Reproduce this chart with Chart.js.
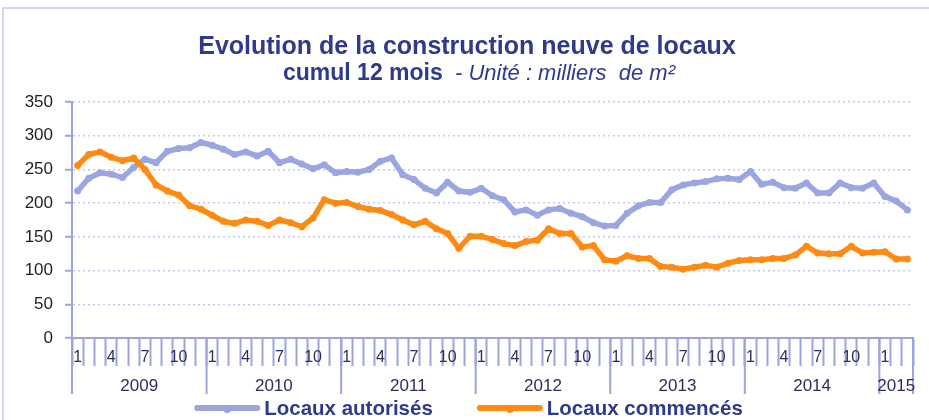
<!doctype html>
<html>
<head>
<meta charset="utf-8" />
<title>Evolution de la construction neuve de locaux</title>
<style>
  html, body { margin:0; padding:0; background:#fff; }
  #wrap { position:relative; width:929px; height:420px; overflow:hidden; }
</style>
<script src="https://cdn.jsdelivr.net/npm/chart.js"></script>
</head>
<body>
<div id="wrap"><canvas id="chart" width="929" height="420"></canvas></div>
<script>
// categories
const years = ['2009', '2010', '2011', '2012', '2013', '2014', '2015'];
const monthsInYear = [12, 12, 12, 12, 12, 12, 3];
const shownMonths = ['1', '4', '7', '10'];

// series, milliers de m² (cumul 12 mois)
const autorises = [
  218, 237, 245, 243, 238, 253, 265, 260, 277, 281, 282, 290,
  286, 280, 272, 276, 270, 277, 260, 265, 258, 251, 257, 245,
  247, 246, 250, 262, 267, 242, 235, 222, 215, 231, 218, 216,
  222, 211, 205, 187, 190, 182, 190, 192, 185, 180, 171, 166,
  167, 185, 196, 201, 201, 220, 227, 230, 232, 236, 237, 235,
  247, 228, 231, 223, 222, 230, 215, 215, 230, 223, 222, 230,
  210, 203, 190
];
const commences = [
  256, 272, 276, 268, 263, 267, 250, 227, 218, 212, 196, 191,
  182, 173, 170, 175, 173, 167, 175, 171, 165, 178, 205, 200,
  201, 195, 191, 189, 183, 175, 168, 173, 162, 155, 133, 151,
  151, 146, 140, 137, 143, 145, 162, 155, 155, 135, 137, 116,
  114, 122, 118, 118, 106, 105, 102, 105, 108, 105, 111, 115,
  116, 116, 118, 118, 123, 136, 126, 125, 125, 136, 126, 127,
  128, 117, 117
];
const yTicks = [0, 50, 100, 150, 200, 250, 300, 350];

const labels = [];
years.forEach((y, k) => {
  for (let m = 1; m <= monthsInYear[k]; m++) labels.push(String(m));
});

const NAVY = '#2F3A8C';
const LAV = '#9BA4DF';
const BLUE = '#9BA5E0';
const ORANGE = '#FF8A12';
const FONT = "'Liberation Sans', Arial, sans-serif";

// frame, title, year row and legend
const decor = {
  id: 'decor',
  beforeDraw(chart) {
    const ctx = chart.ctx;
    ctx.save();
    ctx.strokeStyle = '#D3D6EE';
    ctx.lineWidth = 2;
    ctx.strokeRect(3, 8, 960, 450);
    ctx.restore();
  },
  afterDraw(chart) {
    const ctx = chart.ctx;
    const xs = chart.scales.x;
    ctx.save();
    // title
    ctx.fillStyle = NAVY;
    ctx.textBaseline = 'alphabetic';
    ctx.textAlign = 'center';
    ctx.font = 'bold 25px ' + FONT;
    ctx.fillText('Evolution de la construction neuve de locaux', 467, 54);
    const part1 = 'cumul 12 mois';
    const part2 = '  - Unité : milliers  de m²';
    ctx.font = 'bold 23px ' + FONT;
    const w1 = ctx.measureText(part1).width;
    ctx.font = 'italic 22px ' + FONT;
    const w2 = ctx.measureText(part2).width;
    let x0 = 479 - (w1 + w2) / 2;
    ctx.textAlign = 'left';
    ctx.font = 'bold 23px ' + FONT;
    ctx.fillText(part1, x0, 80);
    ctx.font = 'italic 22px ' + FONT;
    ctx.fillText(part2, x0 + w1, 80);

    // year separators and labels
    const step = xs.getPixelForValue(1) - xs.getPixelForValue(0);
    const bottom = chart.chartArea.bottom;
    ctx.strokeStyle = LAV;
    ctx.lineWidth = 2;
    ctx.fillStyle = '#2A2F5C';
    ctx.textAlign = 'center';
    ctx.textBaseline = 'middle';
    ctx.font = '17px ' + FONT;
    let idx = 0;
    years.forEach((y, k) => {
      const a = xs.getPixelForValue(idx) - step / 2;
      const b = xs.getPixelForValue(idx + monthsInYear[k] - 1) + step / 2;
      ctx.beginPath();
      ctx.moveTo(a, bottom);
      ctx.lineTo(a, bottom + 56);
      if (k === years.length - 1) {
        ctx.moveTo(b, bottom);
        ctx.lineTo(b, bottom + 56);
      }
      ctx.stroke();
      ctx.fillText(y, (a + b) / 2, bottom + 48);
      idx += monthsInYear[k];
    });

    // legend
    const items = [
      { text: 'Locaux autorisés', color: BLUE },
      { text: 'Locaux commencés', color: ORANGE }
    ];
    ctx.font = 'bold 20.5px ' + FONT;
    const lineW = 60, gapT = 7, gapItem = 47;
    const widths = items.map(it => ctx.measureText(it.text).width);
    const total = widths.reduce((s, w) => s + lineW + gapT + w, 0) + gapItem;
    let lx = 470 - total / 2;
    const ly = 408;
    items.forEach((it, i) => {
      ctx.strokeStyle = it.color;
      ctx.lineWidth = 6;
      ctx.lineCap = 'round';
      ctx.beginPath();
      ctx.moveTo(lx, ly);
      ctx.lineTo(lx + lineW, ly);
      ctx.stroke();
      ctx.fillStyle = it.color;
      ctx.beginPath();
      ctx.arc(lx + lineW / 2, ly + 1, 4, 0, Math.PI * 2);
      ctx.fill();
      ctx.fillStyle = NAVY;
      ctx.textAlign = 'left';
      ctx.fillText(it.text, lx + lineW + gapT, ly + 1);
      lx += lineW + gapT + widths[i] + gapItem;
    });
    ctx.restore();
  }
};

const ctx = document.getElementById('chart').getContext('2d');
new Chart(ctx, {
  type: 'line',
  data: {
    labels: labels,
    datasets: [
      {
        label: 'Locaux autorisés', data: autorises, order: 2,
        borderColor: BLUE, backgroundColor: BLUE, borderWidth: 5.5,
        pointRadius: 3.5, pointBorderWidth: 0, pointBackgroundColor: BLUE, tension: 0
      },
      {
        label: 'Locaux commencés', data: commences, order: 1,
        borderColor: ORANGE, backgroundColor: ORANGE, borderWidth: 5.5,
        pointRadius: 3.5, pointBorderWidth: 0, pointBackgroundColor: ORANGE, tension: 0
      }
    ]
  },
  options: {
    responsive: false,
    animation: false,
    layout: { padding: { top: 102, right: 16, bottom: 0, left: 0 } },
    plugins: { legend: { display: false }, title: { display: false }, tooltip: { enabled: false } },
    scales: {
      x: {
        offset: true,
        afterFit: s => { s.height = 82; },
        grid: { display: true, offset: true, drawOnChartArea: false, tickLength: 28, tickColor: LAV, tickWidth: 2 },
        border: { color: LAV, width: 2 },
        ticks: {
          autoSkip: false, maxRotation: 0, padding: -18,
          color: '#2A2F5C', font: { family: FONT, size: 16 },
          callback: function (v) { const l = this.getLabelForValue(v); return shownMonths.includes(l) ? l : ''; }
        }
      },
      y: {
        min: 0, max: 350,
        afterFit: s => { s.width = 72; },
        afterBuildTicks: s => { s.ticks = yTicks.map(v => ({ value: v })); },
        grid: { color: '#C3C8EE', lineWidth: 1.5, tickLength: 7, tickColor: LAV, tickWidth: 2, drawTicks: true },
        border: { color: LAV, width: 2, dash: [2, 3] },
        ticks: { padding: 12, color: '#1E1E1E', font: { family: FONT, size: 17 } }
      }
    }
  },
  plugins: [decor]
});
</script>
</body>
</html>
